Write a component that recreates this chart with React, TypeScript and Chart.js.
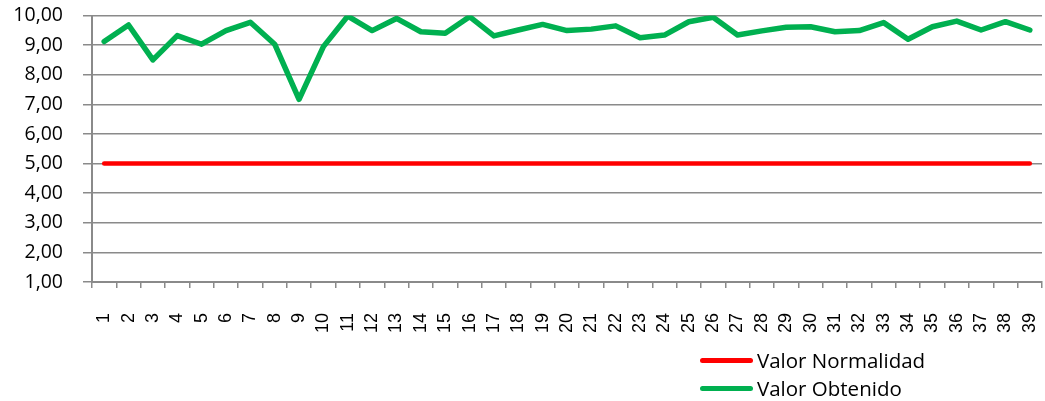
import React, { useEffect, useRef } from "react";
import { Chart, registerables } from "chart.js";

Chart.register(...registerables);

const categories: string[] = Array.from({ length: 39 }, (_, i) => String(i + 1));

const valorNormalidad: number[] = [
  5, 5, 5, 5, 5, 5, 5, 5, 5, 5, 5, 5, 5, 5, 5, 5, 5, 5, 5, 5,
  5, 5, 5, 5, 5, 5, 5, 5, 5, 5, 5, 5, 5, 5, 5, 5, 5, 5, 5,
];

const valorObtenido: number[] = [
  9.12, 9.68, 8.5, 9.32, 9.03, 9.49, 9.77, 9.03, 7.17, 8.95,
  9.98, 9.49, 9.9, 9.45, 9.4, 9.96, 9.31, 9.51, 9.7, 9.49,
  9.54, 9.65, 9.25, 9.34, 9.79, 9.94, 9.34, 9.48, 9.6, 9.62,
  9.45, 9.49, 9.76, 9.2, 9.62, 9.81, 9.51, 9.79, 9.51,
];

const seriesNames: string[] = ["Valor Normalidad", "Valor Obtenido"];
const seriesColors: string[] = ["#FF0000", "#00B050"];

const yMin = 1;
const yMax = 10;
const yStep = 1;

export default function App() {
  const canvasRef = useRef<HTMLCanvasElement | null>(null);

  useEffect(() => {
    if (!canvasRef.current) return;
    const grid = "#8a8a8a";
    const chart = new Chart(canvasRef.current, {
      type: "line",
      data: {
        labels: categories,
        datasets: [
          {
            label: seriesNames[0],
            data: valorNormalidad,
            borderColor: seriesColors[0],
            backgroundColor: seriesColors[0],
            borderWidth: 4.5,
            pointRadius: 0,
            tension: 0,
            borderJoinStyle: "round",
            borderCapStyle: "round",
          },
          {
            label: seriesNames[1],
            data: valorObtenido,
            borderColor: seriesColors[1],
            backgroundColor: seriesColors[1],
            borderWidth: 5.5,
            pointRadius: 0,
            tension: 0,
            borderJoinStyle: "round",
            borderCapStyle: "round",
          },
        ],
      },
      options: {
        responsive: false,
        animation: false,
        layout: { padding: { top: 15.5, right: 3, left: 8, bottom: 59 } },
        plugins: {
          legend: { display: false },
          tooltip: { enabled: false },
        },
        scales: {
          x: {
            type: "category",
            offset: true,
            afterFit: (s: any) => {
              s.paddingLeft = 0;
              s.paddingRight = 0;
              s.paddingTop = 0;
              s.paddingBottom = 0;
              s.height = 60;
            },
            grid: {
              offset: true,
              drawOnChartArea: false,
              drawTicks: true,
              tickLength: 6,
              color: grid,
              lineWidth: 1.5,
            },
            border: { color: grid, width: 2 },
            ticks: {
              autoSkip: false,
              maxRotation: 90,
              minRotation: 90,
              padding: 25,
              color: "#000",
              font: { family: "'Liberation Sans', Arial, sans-serif", size: 18 },
            },
          },
          y: {
            min: yMin,
            max: yMax,
            afterFit: (s: any) => {
              s.paddingLeft = 0;
              s.paddingRight = 0;
              s.paddingTop = 0;
              s.paddingBottom = 0;
              s.width = 84;
            },
            grid: {
              color: grid,
              lineWidth: 1.5,
              tickLength: 9,
              drawTicks: true,
            },
            border: { color: grid, width: 2 },
            ticks: {
              stepSize: yStep,
              autoSkip: false,
              padding: 20,
              color: "#000",
              font: { family: "'Open Sans', sans-serif", size: 19.5 },
              callback: (v: any) => Number(v).toFixed(2).replace(".", ","),
            },
          },
        },
      },
    });
    return () => chart.destroy();
  }, []);

  const legendRow = (i: number, top: number) => (
    <div
      key={i}
      style={{
        position: "absolute",
        left: 700,
        top,
        height: 28,
        display: "flex",
        alignItems: "center",
      }}
    >
      <div
        style={{
          width: 53,
          height: 5,
          borderRadius: 3,
          background: seriesColors[i],
          marginRight: 4,
        }}
      />
      <span
        style={{
          fontFamily: "'Open Sans', sans-serif",
          fontSize: 20.5,
          color: "#000",
          whiteSpace: "nowrap",
        }}
      >
        {seriesNames[i]}
      </span>
    </div>
  );

  return (
    <div style={{ position: "fixed", left: 0, top: 0, width: 1045, height: 401, background: "#fff" }}>
      <canvas ref={canvasRef} width={1045} height={401} style={{ display: "block" }} />
      {legendRow(0, 346)}
      {legendRow(1, 374)}
    </div>
  );
}
